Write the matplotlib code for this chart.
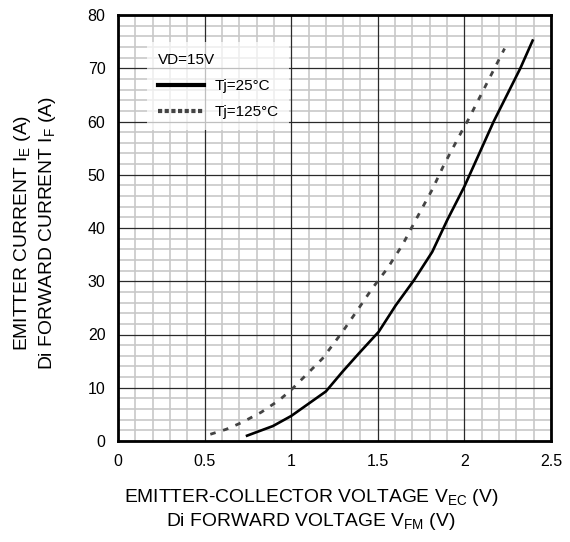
import matplotlib
matplotlib.use("Agg")
import matplotlib.pyplot as plt
from matplotlib.ticker import FixedLocator
from matplotlib.lines import Line2D

plt.rcParams['font.family'] = ['Liberation Sans', 'DejaVu Sans']
plt.rcParams['mathtext.default'] = 'regular'

# Tj = 25°C
v25 = [0.745, 0.894, 1.0, 1.2, 1.296, 1.392, 1.505, 1.604, 1.709, 1.814, 1.901, 2.0, 2.169, 2.323, 2.394]
i25 = [1.0, 2.8, 4.7, 9.3, 13.0, 16.5, 20.5, 25.5, 30.2, 35.5, 41.5, 47.8, 60.0, 70.0, 75.2]
# Tj = 125°C
v125 = [0.533, 0.625, 0.71, 0.827, 0.932, 1.0, 1.086, 1.181, 1.296, 1.383, 1.469, 1.555, 1.642, 1.709, 1.814, 1.881, 1.987, 2.025, 2.232]
i125 = [1.26, 2.2, 3.4, 5.4, 7.7, 9.6, 12.4, 15.5, 20.5, 24.6, 28.7, 32.4, 36.8, 40.9, 47.2, 51.8, 58.3, 60.5, 73.7]

xticks = [0, 0.5, 1, 1.5, 2, 2.5]
xticklabels = ['0', '0.5', '1', '1.5', '2', '2.5']
yticks = [0, 10, 20, 30, 40, 50, 60, 70, 80]

fig = plt.figure(figsize=(5.70, 5.42), dpi=100)
ax = fig.add_axes([118/570, 101/542, (551-118)/570, (441-15)/542])

ax.set_xlim(0, 2.5)
ax.set_ylim(0, 80)
ax.set_xticks(xticks)
ax.set_xticklabels(xticklabels)
ax.set_yticks(yticks)
ax.xaxis.set_minor_locator(FixedLocator([i / 10 for i in range(26) if i % 5]))
ax.yaxis.set_minor_locator(FixedLocator([i * 2 for i in range(41) if i % 5]))
ax.grid(which='minor', color='#c8c8c8', lw=1.2)
ax.grid(which='major', visible=False)
ax.set_axisbelow(True)
# major grid drawn above the minor grid
ax.vlines(xticks, 0, 80, colors='#2a2a2a', lw=0.9, zorder=1)
ax.hlines(yticks, 0, 2.5, colors='#2a2a2a', lw=0.9, zorder=1)
ax.tick_params(which='both', length=0, labelsize=11.5, pad=9)
for s in ax.spines.values():
    s.set_linewidth(2)
    s.set_color('black')

ax.plot(v25, i25, color='black', lw=1.9, zorder=3)
ax.plot(v125, i125, color='#444444', lw=2.0, ls=(0, (2.0, 2.8)), zorder=3)

handles = [Line2D([], [], color='black', lw=3.0),
           Line2D([], [], color='#444444', lw=3.0, ls=(0, (1.0, 0.6)))]
leg = ax.legend(handles, ['Tj=25°C', 'Tj=125°C'], loc='upper left',
                bbox_to_anchor=(0.05, 0.955), title='VD=15V',
                fontsize=11, title_fontsize=11, frameon=True, framealpha=0.7,
                facecolor='white', edgecolor='none', fancybox=False,
                handlelength=3.0, handletextpad=0.7, borderpad=0.7, labelspacing=0.8,
                alignment='left')
leg._legend_box.sep = 9
leg.set_zorder(2)

fig.text(23/570, 1 - 233/542, r'EMITTER CURRENT I$_E$ (A)', rotation=90, fontsize=13.9, ha='center', va='center')
fig.text(48/570, 1 - 233/542, r'Di FORWARD CURRENT I$_F$ (A)', rotation=90, fontsize=13.9, ha='center', va='center')
fig.text(311/570, 1 - 497/542, r'EMITTER-COLLECTOR VOLTAGE V$_{EC}$ (V)', fontsize=13.9, ha='center', va='center')
fig.text(311/570, 1 - 522/542, r'Di FORWARD VOLTAGE V$_{FM}$ (V)', fontsize=13.9, ha='center', va='center')

fig.savefig('out.png', dpi=100)
